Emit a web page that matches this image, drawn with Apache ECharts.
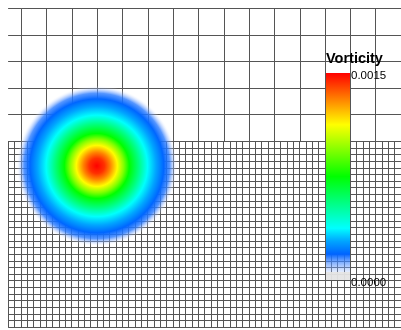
<!DOCTYPE html>
<html>
<head>
<meta charset="utf-8">
<script src="https://cdn.jsdelivr.net/npm/echarts@6/dist/echarts.min.js"></script>
<style>
html, body { margin: 0; padding: 0; background: #ffffff; }
#chart { width: 401px; height: 330px; }
</style>
</head>
<body>
<div id="chart"></div>
<script>
// ---- Data (mesh units: one coarse cell = 1) ----
const DOMAIN_X = [-0.5, 15];          // visible x extent of the mesh
const COARSE_X = [0, 15];             // first full coarse column starts at x = 0
const COARSE_Y = [7, 12];             // coarse block
const FINE_Y = [0, 7];                // refined block
const COARSE_STEP = 1;
const FINE_STEP = 0.25;

const VORTEX_CENTER = [3.0, 6.07];
// radial vorticity profile of the vortex
const PROFILE_RADIUS    = [0, 0.30, 0.53, 0.81, 1.06, 1.28, 1.66, 2.00, 2.34, 2.64, 2.87, 3.02, 3.17];
const PROFILE_VORTICITY = [0.00150, 0.00143, 0.00131, 0.00113, 0.00094, 0.00075, 0.00056, 0.00038, 0.00028, 0.00019, 0.00015, 0.000075, 0];

const VORT_RANGE = [0, 0.0015];
const COLORBAR_TITLE = 'Vorticity';

// ---- Style / layout ----
const COLORS = [
  'rgba(255,255,255,0)', 'rgba(110,160,255,0.5)', 'rgb(0,100,255)', 'rgb(0,165,255)',
  'rgb(0,255,255)', 'rgb(0,255,190)', 'rgb(0,255,128)', 'rgb(0,255,64)',
  'rgb(0,255,0)', 'rgb(64,255,0)', 'rgb(128,255,0)', 'rgb(192,255,0)',
  'rgb(255,255,0)', 'rgb(255,192,0)', 'rgb(255,128,0)', 'rgb(255,64,0)', 'rgb(255,0,0)'
];
const BELOW_COLOR = 'rgba(228,228,228,0.95)';   // grey foot of the colour bar
const BELOW_FRACTION = 0.04;
const LINE = '#555555';
const LEFT = 8.1, TOP = 8.3, UX = 26.43, UY = 26.58;
const W = (DOMAIN_X[1] - DOMAIN_X[0]) * UX;
const coarseLeft = LEFT + (COARSE_X[0] - DOMAIN_X[0]) * UX;
const coarseW = (COARSE_X[1] - COARSE_X[0]) * UX;
const stripW = coarseLeft - LEFT;
const coarseH = (COARSE_Y[1] - COARSE_Y[0]) * UY;
const fineH = (FINE_Y[1] - FINE_Y[0]) * UY;

function colorOf(t) {
  return echarts.color.lerp(Math.max(0, Math.min(1, t)), COLORS);
}

const chart = echarts.init(document.getElementById('chart'), null, { renderer: 'canvas', width: 401, height: 330 });

const meshAxis = {
  type: 'value',
  axisLine: { show: false },
  axisTick: { show: false },
  axisLabel: { show: false },
  splitLine: { show: true, lineStyle: { color: LINE, width: 1 } }
};
const noLines = {
  type: 'value',
  axisLine: { show: false }, axisTick: { show: false }, axisLabel: { show: false },
  splitLine: { show: false }
};

chart.setOption({
  animation: false,
  backgroundColor: '#ffffff',
  title: {
    text: COLORBAR_TITLE, left: 326, top: 51, padding: 0,
    textStyle: { fontSize: 14.5, fontWeight: 'bold', color: '#000', fontFamily: 'Liberation Sans' }
  },
  grid: [
    { left: LEFT, top: TOP, width: W, height: coarseH + fineH },          // 0: field
    { left: coarseLeft, top: TOP, width: coarseW, height: coarseH },      // 1: coarse block
    { left: LEFT, top: TOP, width: stripW, height: coarseH },             // 2: coarse half-column at left edge
    { left: LEFT, top: TOP + coarseH, width: W, height: fineH },          // 3: fine block
    { left: 326, top: 73, width: 24, height: 207 },                       // 4: colour bar swatch
    { left: 326, top: 75.5, width: 24, height: 207 }                      // 5: colour bar labels
  ],
  xAxis: [
    { gridIndex: 0, type: 'value', min: DOMAIN_X[0], max: DOMAIN_X[1], show: false },
    Object.assign({}, meshAxis, { gridIndex: 1, min: COARSE_X[0], max: COARSE_X[1], interval: COARSE_STEP }),
    Object.assign({}, noLines, { gridIndex: 2, min: DOMAIN_X[0], max: COARSE_X[0] }),
    Object.assign({}, meshAxis, { gridIndex: 3, min: DOMAIN_X[0], max: DOMAIN_X[1], interval: FINE_STEP }),
    { gridIndex: 4, type: 'value', min: 0, max: 1, show: false },
    { gridIndex: 5, type: 'value', min: 0, max: 1, show: false }
  ],
  yAxis: [
    { gridIndex: 0, type: 'value', min: FINE_Y[0], max: COARSE_Y[1], show: false },
    Object.assign({}, meshAxis, { gridIndex: 1, min: COARSE_Y[0], max: COARSE_Y[1], interval: COARSE_STEP }),
    Object.assign({}, meshAxis, { gridIndex: 2, min: COARSE_Y[0], max: COARSE_Y[1], interval: COARSE_STEP }),
    Object.assign({}, meshAxis, { gridIndex: 3, min: FINE_Y[0], max: FINE_Y[1], interval: FINE_STEP }),
    { gridIndex: 4, type: 'value', min: VORT_RANGE[0], max: VORT_RANGE[1], show: false },
    {
      gridIndex: 5, type: 'value', min: VORT_RANGE[0], max: VORT_RANGE[1], interval: VORT_RANGE[1],
      position: 'right',
      axisLine: { show: false }, axisTick: { show: false }, splitLine: { show: false },
      axisLabel: { margin: 1, fontSize: 11.5, color: '#000', fontFamily: 'Liberation Sans',
        formatter: v => v.toFixed(4) }
    }
  ],
  series: [{
    type: 'custom',
    coordinateSystem: 'cartesian2d',
    xAxisIndex: 0, yAxisIndex: 0,
    silent: true,
    data: [VORTEX_CENTER],
    renderItem: function (params, api) {
      const c = api.coord([api.value(0), api.value(1)]);
      const rMax = PROFILE_RADIUS[PROFILE_RADIUS.length - 1];
      const rPx = api.size([rMax, 0])[0];
      const span = VORT_RANGE[1] - VORT_RANGE[0];
      const stops = PROFILE_RADIUS.map((r, i) => ({
        offset: r / rMax,
        color: colorOf((PROFILE_VORTICITY[i] - VORT_RANGE[0]) / span)
      }));
      return {
        type: 'circle',
        shape: { cx: c[0], cy: c[1], r: rPx },
        style: { fill: new echarts.graphic.RadialGradient(0.5, 0.5, 0.5, stops) }
      };
    }
  }, {
    // colour bar swatch, spanning the vorticity range on its own axis
    type: 'custom',
    coordinateSystem: 'cartesian2d',
    xAxisIndex: 4, yAxisIndex: 4,
    silent: true,
    data: [VORT_RANGE],
    renderItem: function (params, api) {
      const p0 = api.coord([0, api.value(0)]);
      const p1 = api.coord([1, api.value(1)]);
      const stops = [
        { offset: 0, color: BELOW_COLOR },
        { offset: BELOW_FRACTION - 0.001, color: BELOW_COLOR },
        { offset: BELOW_FRACTION, color: colorOf(BELOW_FRACTION) }
      ];
      for (let k = 1; k < COLORS.length; k++) {
        const t = k / (COLORS.length - 1);
        if (t > BELOW_FRACTION) stops.push({ offset: t, color: COLORS[k] });
      }
      return {
        type: 'rect',
        shape: { x: p0[0], y: p1[1], width: p1[0] - p0[0], height: p0[1] - p1[1] },
        style: { fill: new echarts.graphic.LinearGradient(0, 1, 0, 0, stops) }
      };
    }
  }]
});
</script>
</body>
</html>
